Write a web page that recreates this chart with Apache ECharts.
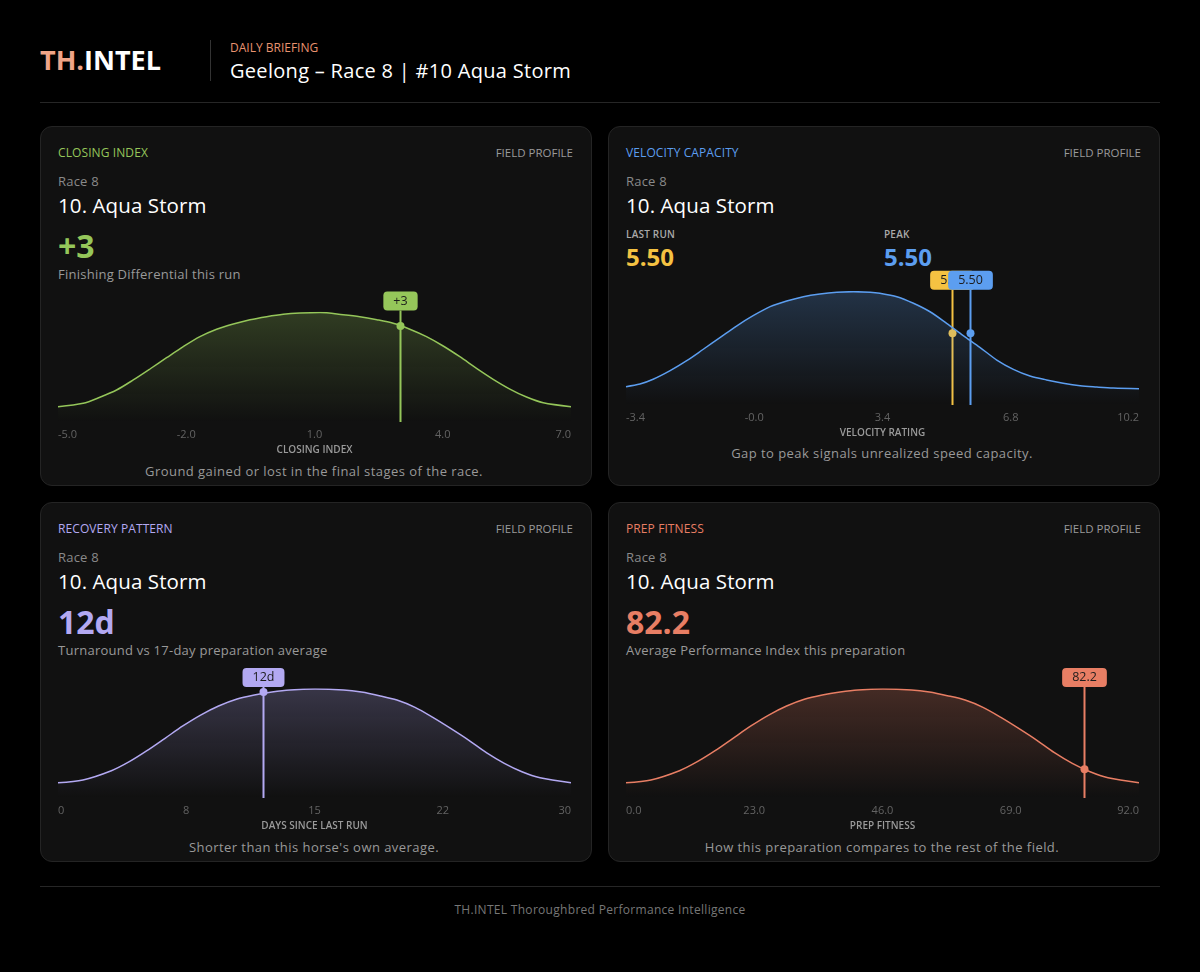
<!DOCTYPE html>
<html>
<head>
<meta charset="utf-8">
<script src="https://cdn.jsdelivr.net/npm/echarts@6/dist/echarts.min.js"></script>
<style>
body { margin: 0; background: #000; width: 1200px; height: 972px; position: relative; overflow: hidden; font-family: 'Open Sans', sans-serif; }
.t { position: absolute; white-space: nowrap; line-height: 1; }
.card { position: absolute; width: 552px; height: 360px; background: #111; border: 1px solid #242424; border-radius: 12px; box-sizing: border-box; }
.chart { position: absolute; width: 552px; height: 200px; }
.hr { position: absolute; left: 40px; width: 1120px; height: 1px; background: #262626; }
.kick { font-size: 12px; font-weight: 500; letter-spacing: 0.1px; }
.fp { font-size: 11.5px; color: #9a9a9a; }
.race { font-size: 13px; color: #8a8a8a; letter-spacing: 0.2px; }
.name { font-size: 20.5px; color: #fff; font-weight: 500; letter-spacing: 0.1px; }
.big { font-size: 32px; font-weight: 700; }
.sub { font-size: 13px; color: #999; letter-spacing: 0.25px; }
.cap { font-size: 13px; color: #999; letter-spacing: 0.45px; transform: translateX(-50%); }
</style>
</head>
<body>

<div class="t" style="left:40px;top:46px;font-size:27px;font-weight:700;color:#fff;"><span style="color:#F0A487">TH.</span>INTEL</div>
<div style="position:absolute;left:210px;top:40px;width:1px;height:41px;background:#333;"></div>
<div class="t" style="left:230px;top:42px;font-size:12px;font-weight:500;color:#E8936F;">DAILY BRIEFING</div>
<div class="t" style="left:230px;top:61px;font-size:20px;letter-spacing:0.3px;color:#fff;">Geelong – Race 8 | #10 Aqua Storm</div>
<div class="hr" style="top:102px;"></div>

<div class="card" style="left:40px;top:126px;"></div>
<div class="card" style="left:608px;top:126px;"></div>
<div class="card" style="left:40px;top:502px;"></div>
<div class="card" style="left:608px;top:502px;"></div>

<!-- card 1 -->
<div class="t kick" style="left:58px;top:147px;color:#95C65A;">CLOSING INDEX</div>
<div class="t fp" style="right:627px;top:147px;">FIELD PROFILE</div>
<div class="t race" style="left:58px;top:175px;">Race 8</div>
<div class="t name" style="left:58px;top:195px;">10. Aqua Storm</div>
<div class="t big" style="left:58px;top:230px;color:#95C65A;">+3</div>
<div class="t sub" style="left:58px;top:268px;">Finishing Differential this run</div>
<div class="t cap" style="left:314px;top:465px;">Ground gained or lost in the final stages of the race.</div>

<!-- card 2 -->
<div class="t kick" style="left:626px;top:147px;color:#5C9EF0;">VELOCITY CAPACITY</div>
<div class="t fp" style="right:59px;top:147px;">FIELD PROFILE</div>
<div class="t race" style="left:626px;top:175px;">Race 8</div>
<div class="t name" style="left:626px;top:195px;">10. Aqua Storm</div>
<div class="t" style="left:626px;top:229px;font-size:10px;font-weight:600;color:#aaa;letter-spacing:0.2px;">LAST RUN</div>
<div class="t" style="left:884px;top:229px;font-size:10px;font-weight:600;color:#aaa;letter-spacing:0.2px;">PEAK</div>
<div class="t" style="left:626px;top:245px;font-size:24px;font-weight:700;color:#F5C242;">5.50</div>
<div class="t" style="left:884px;top:245px;font-size:24px;font-weight:700;color:#5C9EF0;">5.50</div>
<div class="t cap" style="left:882px;top:447px;">Gap to peak signals unrealized speed capacity.</div>

<!-- card 3 -->
<div class="t kick" style="left:58px;top:523px;color:#B3A9F2;">RECOVERY PATTERN</div>
<div class="t fp" style="right:627px;top:523px;">FIELD PROFILE</div>
<div class="t race" style="left:58px;top:551px;">Race 8</div>
<div class="t name" style="left:58px;top:571px;">10. Aqua Storm</div>
<div class="t big" style="left:58px;top:606px;color:#B3A9F2;">12d</div>
<div class="t sub" style="left:58px;top:644px;">Turnaround vs 17-day preparation average</div>
<div class="t cap" style="left:314px;top:841px;">Shorter than this horse's own average.</div>

<!-- card 4 -->
<div class="t kick" style="left:626px;top:523px;color:#E87E64;">PREP FITNESS</div>
<div class="t fp" style="right:59px;top:523px;">FIELD PROFILE</div>
<div class="t race" style="left:626px;top:551px;">Race 8</div>
<div class="t name" style="left:626px;top:571px;">10. Aqua Storm</div>
<div class="t big" style="left:626px;top:606px;color:#E87E64;">82.2</div>
<div class="t sub" style="left:626px;top:644px;">Average Performance Index this preparation</div>
<div class="t cap" style="left:882px;top:841px;">How this preparation compares to the rest of the field.</div>

<div id="c1" class="chart" style="left:40px;top:270px;"></div>
<div id="c2" class="chart" style="left:608px;top:250px;"></div>
<div id="c3" class="chart" style="left:40px;top:646px;"></div>
<div id="c4" class="chart" style="left:608px;top:646px;"></div>

<div class="hr" style="top:886px;"></div>
<div class="t" style="left:600px;top:904px;font-size:12px;color:#777;letter-spacing:0.3px;transform:translateX(-50%);">TH.INTEL Thoroughbred Performance Intelligence</div>

<script>
// field distributions, density as % of the peak
var closingCurve = [
    [-5.00, 14.0], [-4.41, 17.1], [-4.02, 22.6], [-3.63, 29.2], [-3.24, 38.4], [-2.85, 48.4],
    [-2.46, 58.7], [-2.07, 68.8], [-1.68, 77.9], [-1.29, 84.7], [-0.90, 89.5], [-0.51, 93.4],
    [-0.12, 96.2], [0.27, 98.4], [0.66, 99.5], [1.13, 100], [1.67, 98.0], [2.06, 96.2],
    [2.46, 93.4], [2.84, 90.1], [3.23, 84.7], [3.62, 77.9], [4.01, 69.4], [4.40, 59.6],
    [4.79, 49.0], [5.18, 39.0], [5.57, 30.1], [5.96, 22.8], [6.35, 17.6], [7.00, 14.0]
];
var velocityCurve = [
    [-3.40, 16.2], [-3.03, 18.5], [-2.68, 22.7], [-2.23, 30.3], [-1.79, 39.1], [-1.35, 49.2],
    [-0.91, 59.4], [-0.47, 69.7], [-0.03, 78.8], [0.42, 86.8], [0.86, 91.8], [1.30, 95.6],
    [1.74, 98.0], [2.19, 99.5], [2.63, 100], [3.07, 99.5], [3.33, 98.6], [3.78, 95.6],
    [4.22, 89.8], [4.66, 82.3], [5.10, 72.1], [5.54, 61.2], [5.98, 50.9], [6.43, 39.7],
    [6.87, 31.5], [7.31, 25.6], [7.75, 22.1], [8.19, 19.2], [8.64, 17.0], [9.08, 15.9],
    [9.52, 15.0], [10.20, 14.4]
];
var daysCurve = [
    [0, 14.0], [1.46, 16.5], [3.12, 25.0], [4.17, 33.3], [5.20, 43.4], [6.26, 54.8],
    [7.30, 66.1], [8.34, 76.1], [9.39, 84.4], [10.43, 90.6], [11.48, 94.5], [12.51, 97.2],
    [13.57, 99.1], [15.03, 100], [16.70, 99.1], [17.74, 97.2], [18.79, 93.9], [19.82, 89.9],
    [20.88, 83.2], [21.92, 74.0], [22.96, 63.9], [24.01, 53.2], [25.05, 41.6], [26.10, 31.8],
    [27.13, 24.1], [28.19, 18.6], [30, 14.0]
];
var fitnessCurve = [
    [0, 14.0], [4.47, 16.5], [9.58, 25.0], [12.79, 33.3], [15.98, 43.4], [19.19, 54.8],
    [22.40, 66.1], [25.59, 76.1], [28.80, 84.4], [31.99, 90.6], [35.20, 94.5], [38.40, 97.2],
    [41.61, 99.1], [46.09, 100], [51.22, 99.1], [54.41, 97.2], [57.62, 93.9], [60.81, 89.9],
    [64.02, 83.2], [67.23, 74.0], [70.42, 63.9], [73.63, 53.2], [76.83, 41.6], [80.04, 31.8],
    [83.23, 24.1], [86.44, 18.6], [92, 14.0]
];

var closingTicks = ['-5.0', '-2.0', '1.0', '4.0', '7.0'];
var velocityTicks = ['-3.4', '-0.0', '3.4', '6.8', '10.2'];
var daysTicks = ['0', '8', '15', '22', '30'];
var fitnessTicks = ['0.0', '23.0', '46.0', '69.0', '92.0'];

// horse markers: [value, density at marker]
var closingMarker = [3, 87.7];
var lastRunMarker = [5.5, 63.3];
var peakMarker = [5.5, 63.3];
var daysMarker = [12, 97.2];
var fitnessMarker = [82.2, 26.3];

var FONT = "'Open Sans', sans-serif";

function markerSeries(point, text, color, dx) {
    return {
        type: 'custom',
        xAxisIndex: 1,
        silent: true,
        data: [point],
        renderItem: function (params, api) {
            var rect = params.coordSys;
            var pt = api.coord([api.value(0), api.value(1)]);
            var x = Math.round(pt[0] + (dx || 0)) + 0.5;
            return {
                type: 'group',
                children: [{
                    type: 'line',
                    shape: { x1: x, y1: rect.y - 2, x2: x, y2: rect.y + rect.height },
                    style: { stroke: color, lineWidth: 2 }
                }, {
                    type: 'circle',
                    shape: { cx: x, cy: pt[1], r: 4 },
                    style: { fill: color }
                }, {
                    type: 'text',
                    x: x,
                    y: rect.y - 2,
                    style: {
                        text: text,
                        fill: '#1c1c1c',
                        font: '500 12.5px ' + FONT,
                        align: 'center',
                        verticalAlign: 'bottom',
                        backgroundColor: color,
                        padding: [3, 10, 3, 10],
                        borderRadius: 4
                    }
                }]
            };
        }
    };
}

function makeChart(id, cfg) {
    var chart = echarts.init(document.getElementById(id));
    var c = echarts.color;
    var series = [{
        type: 'line',
        xAxisIndex: 1,
        data: cfg.curve,
        smooth: 0.3,
        showSymbol: false,
        silent: true,
        lineStyle: { color: cfg.color, width: 1.5 },
        areaStyle: {
            color: new echarts.graphic.LinearGradient(0, 0, 0, 1, [
                { offset: 0, color: c.modifyAlpha(cfg.color, 0.34) },
                { offset: 1, color: c.modifyAlpha(cfg.color, 0) }
            ])
        }
    }];
    cfg.markers.forEach(function (m) {
        series.push(markerSeries(m.point, m.text, m.color, m.dx));
    });
    chart.setOption({
        animation: false,
        grid: { left: 18, width: 513, top: cfg.top, height: cfg.height, outerBoundsMode: 'none' },
        xAxis: [{
            type: 'category',
            data: cfg.ticks,
            boundaryGap: false,
            axisLine: { show: false },
            axisTick: { show: false },
            splitLine: { show: false },
            axisLabel: {
                color: '#636363', fontSize: 11, margin: 7, fontFamily: FONT,
                alignMinLabel: 'left', alignMaxLabel: 'right'
            },
            name: cfg.axisName,
            nameLocation: 'middle',
            nameGap: 23,
            nameTextStyle: { color: '#9a9a9a', fontSize: 10, fontWeight: 600, fontFamily: FONT }
        }, {
            type: 'value', min: cfg.min, max: cfg.max, show: false
        }],
        yAxis: { type: 'value', min: 0, max: 100, show: false },
        series: series
    });
    return chart;
}

makeChart('c1', {
    curve: closingCurve, ticks: closingTicks, min: -5, max: 7, color: '#95C65A',
    top: 42.5, height: 109.5, axisName: 'CLOSING INDEX',
    markers: [{ point: closingMarker, text: '+3', color: '#95C65A' }]
});
makeChart('c2', {
    curve: velocityCurve, ticks: velocityTicks, min: -3.4, max: 10.2, color: '#5C9EF0',
    top: 41.7, height: 113.3, axisName: 'VELOCITY RATING',
    markers: [
        { point: lastRunMarker, text: '5.50', color: '#F5C242', dx: -10 },
        { point: peakMarker, text: '5.50', color: '#5C9EF0', dx: 8 }
    ]
});
makeChart('c3', {
    curve: daysCurve, ticks: daysTicks, min: 0, max: 30, color: '#B3A9F2',
    top: 43, height: 109, axisName: 'DAYS SINCE LAST RUN',
    markers: [{ point: daysMarker, text: '12d', color: '#B3A9F2' }]
});
makeChart('c4', {
    curve: fitnessCurve, ticks: fitnessTicks, min: 0, max: 92, color: '#E87E64',
    top: 43, height: 109, axisName: 'PREP FITNESS',
    markers: [{ point: fitnessMarker, text: '82.2', color: '#E87E64' }]
});
</script>
</body>
</html>
